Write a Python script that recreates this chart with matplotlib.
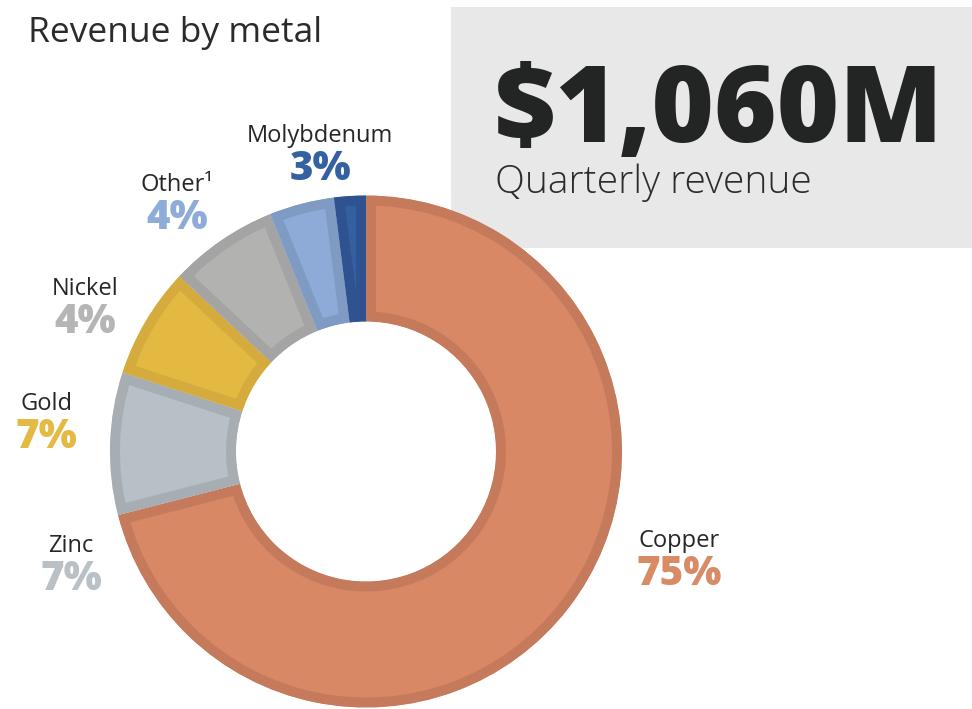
import matplotlib
matplotlib.use("Agg")
import matplotlib.pyplot as plt
from matplotlib.patches import Rectangle

# Revenue split by metal (slice sizes read from the drawn ring, labels as printed)
metals = ["Copper", "Zinc", "Gold", "Nickel", "Other\u00b9", "Molybdenum"]
shares = [71.0, 9.0, 7.0, 6.9, 4.1, 2.0]
pct_labels = ["75%", "7%", "7%", "4%", "4%", "3%"]
total_revenue = "$1,060M"
total_caption = "Quarterly revenue"

fills = ["#d88865", "#b8c0c7", "#e4b942", "#b2b3b1", "#8dabd6", "#3560a0"]
edges = ["#c57b5b", "#a7aeb3", "#d4ab3c", "#a4a4a4", "#7f9bc4", "#2e5390"]
pct_colors = ["#d98b66", "#b9c1c7", "#e5ba43", "#b5b5b5", "#8eacd7", "#3461a1"]
# label anchor (center x, baseline y of the name) in image pixels
label_pos = [(679, 547), (71, 552), (46, 410), (85, 295), (177, 191), (320, 142)]

W, H = 972, 709
fig = plt.figure(figsize=(W / 100, H / 100), dpi=100)
ax = fig.add_axes([0, 0, 1, 1])

def Y(y):
    # image pixel row -> data y
    return H - y

# grey box behind the headline number
ax.add_patch(Rectangle((451, Y(248)), W - 451, 241, facecolor="#e8e8e8",
                       edgecolor="none", zorder=0))

wedges, _ = ax.pie(shares, colors=fills, startangle=90, counterclock=False,
                   center=(366, Y(451.5)), radius=256,
                   wedgeprops=dict(width=126))
ax.set_xlim(0, W)
ax.set_ylim(0, H)
ax.set_aspect("equal")
ax.axis("off")

for w, ec in zip(wedges, edges):
    w.set_edgecolor(ec)
    w.set_linewidth(20 * 72 / 100)
    w.set_joinstyle("miter")
    w.set_zorder(2)
    # keep only the inner half of the stroke
    w.set_clip_on(True)
    w.set_clip_path(w)

ax.text(28, Y(42), "Revenue by metal", fontsize=25.5, family="Open Sans",
        color="#2b2b2b", va="baseline", ha="left")

ax.text(494, Y(142), total_revenue, fontsize=77, family="Open Sans",
        weight="heavy", color="#222524", va="baseline", ha="left", zorder=3)
ax.text(495, Y(193), total_caption, fontsize=28, family="Open Sans",
        weight="light", color="#2b2b2b", va="baseline", ha="left", zorder=3)

for name, pct, col, (x, y) in zip(metals, pct_labels, pct_colors, label_pos):
    ax.text(x, Y(y), name, fontsize=17, family="Open Sans", color="#262626",
            ha="center", va="baseline", zorder=3)
    ax.text(x, Y(y + 38), pct, fontsize=29, family="Open Sans", weight="heavy",
            color=col, ha="center", va="baseline", zorder=3)

fig.savefig("out.png", dpi=100)
